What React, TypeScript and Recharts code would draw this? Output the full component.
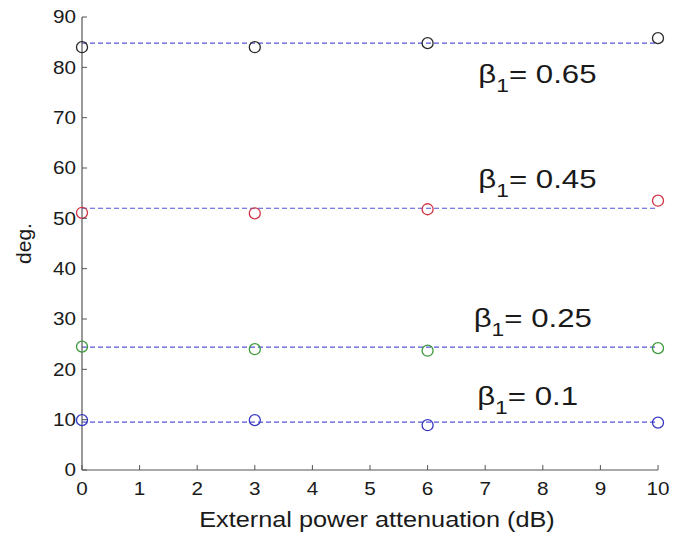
import React from 'react';
import {
  ScatterChart, Scatter, XAxis, YAxis, ReferenceLine, ReferenceDot, Label,
} from 'recharts';

// attenuation values (dB) where angles were measured
const attenuation = [0, 3, 6, 10];

// measured angle (deg.) for each beta
const beta065 = [84.0, 84.0, 84.8, 85.8];
const beta045 = [51.1, 51.0, 51.8, 53.5];
const beta025 = [24.5, 24.0, 23.7, 24.2];
const beta010 = [9.9, 9.9, 8.9, 9.4];

// fitted (mean) levels drawn as dashed lines
const fitLevels = [84.8, 52.0, 24.4, 9.5];

const betaLabels = ['0.65', '0.45', '0.25', '0.1'];
// where each label sits, in data units
const labelX = [6.88, 6.88, 6.8, 6.86];
const labelY = [76.9, 56.1, 28.4, 12.9];

const xTicks = [0, 1, 2, 3, 4, 5, 6, 7, 8, 9, 10];
const yTicks = [0, 10, 20, 30, 40, 50, 60, 70, 80, 90];

const FONT = '"Liberation Sans", Arial, Helvetica, sans-serif';
const AXIS = '#555';
const TEXT = '#1a1a1a';
const SX = 1.15; // the original figure is a bit wide

const toPoints = (vals: number[]) => attenuation.map((x, i) => ({ x, y: vals[i] }));

const series = [
  { name: 'b065', data: toPoints(beta065), color: '#2b2b2b' },
  { name: 'b045', data: toPoints(beta045), color: '#d03545' },
  { name: 'b025', data: toPoints(beta025), color: '#3c9a3c' },
  { name: 'b010', data: toPoints(beta010), color: '#3838c0' },
];

const BottomTick = (props: any) => {
  const { x, y, payload } = props;
  const top = y - 12;
  return (
    <g>
      <line x1={x} x2={x} y1={top} y2={top - 5} stroke={AXIS} strokeWidth={1} />
      <text transform={`translate(${x} ${y}) scale(${SX} 1)`} textAnchor="middle" dy="0.71em"
        fontFamily={FONT} fontSize={18} fill={TEXT}>{payload.value}</text>
    </g>
  );
};

const LeftTick = (props: any) => {
  const { x, y, payload } = props;
  const ax = x + 6;
  return (
    <g>
      <line x1={ax} x2={ax + 5} y1={y} y2={y} stroke={AXIS} strokeWidth={1} />
      <text transform={`translate(${x} ${y}) scale(${SX} 1)`} textAnchor="end" dy="0.36em"
        fontFamily={FONT} fontSize={18} fill={TEXT}>{payload.value}</text>
    </g>
  );
};

const TopTick = (props: any) => {
  const { x, y } = props;
  return <line x1={x} x2={x} y1={y} y2={y + 5} stroke={AXIS} strokeWidth={1} />;
};

const RightTick = (props: any) => {
  const { x, y } = props;
  return <line x1={x} x2={x - 5} y1={y} y2={y} stroke={AXIS} strokeWidth={1} />;
};

const XTitle = (props: any) => {
  const vb = props.viewBox;
  const cx = vb.x + vb.width / 2 + 7;
  return (
    <text transform={`translate(${cx} ${vb.y + 57}) scale(1.15 1)`} textAnchor="middle"
      fontFamily={FONT} fontSize={22} fill={TEXT}>External power attenuation (dB)</text>
  );
};

const YTitle = (props: any) => {
  const vb = props.viewBox;
  const cy = vb.y + vb.height / 2;
  return (
    <text transform={`translate(31 ${cy}) rotate(-90)`} textAnchor="middle"
      fontFamily={FONT} fontSize={21} fill={TEXT}>deg.</text>
  );
};

const BetaText = ({ cx, cy, value }: any) => (
  <text transform={`translate(${cx} ${cy}) scale(1.2 1)`} fontFamily={FONT} fontSize={26} fill={TEXT}>
    <tspan>β</tspan>
    <tspan fontSize={19} dy={9}>1</tspan>
    <tspan dy={-9}>= {value}</tspan>
  </text>
);

const Ring = (color: string) => (props: any) => (
  <circle cx={props.cx} cy={props.cy} r={5.5} fill="none" stroke={color} strokeWidth={1.3} />
);

export default function App() {
  return (
    <div style={{ position: 'absolute', left: 0, top: 0, background: '#fff' }}>
      <ScatterChart width={681} height={533} margin={{ top: 17, right: 23, bottom: 0, left: 0 }}>
        <XAxis type="number" dataKey="x" domain={[0, 10]} ticks={xTicks} interval={0}
          height={63} tickSize={0} tickMargin={12} tickLine={false}
          axisLine={{ stroke: AXIS, strokeWidth: 1.2 }} tick={<BottomTick />}>
          <Label content={<XTitle />} />
        </XAxis>
        <XAxis xAxisId="top" orientation="top" type="number" domain={[0, 10]} ticks={xTicks}
          interval={0} height={0} tickSize={0} tickMargin={0} tickLine={false}
          axisLine={{ stroke: AXIS, strokeWidth: 1.2 }} tick={<TopTick />} />
        <YAxis type="number" dataKey="y" domain={[0, 90]} ticks={yTicks} interval={0}
          width={82} tickSize={0} tickMargin={6} tickLine={false}
          axisLine={{ stroke: AXIS, strokeWidth: 1.2 }} tick={<LeftTick />}>
          <Label content={<YTitle />} />
        </YAxis>
        <YAxis yAxisId="right" orientation="right" type="number" domain={[0, 90]} ticks={yTicks}
          interval={0} width={0} tickSize={0} tickMargin={0} tickLine={false}
          axisLine={{ stroke: AXIS, strokeWidth: 1.2 }} tick={<RightTick />} />

        {fitLevels.map((v, i) => (
          <ReferenceLine key={`fit-${i}`} y={v} stroke="#5555d8" strokeWidth={1.2}
            strokeDasharray="5 3" />
        ))}

        {series.map((s) => (
          <Scatter key={s.name} name={s.name} data={s.data} isAnimationActive={false}
            shape={Ring(s.color)} />
        ))}

        {betaLabels.map((b, i) => (
          <ReferenceDot key={`lbl-${i}`} x={labelX[i]} y={labelY[i]} r={0} ifOverflow="visible"
            shape={(p: any) => <BetaText cx={p.cx} cy={p.cy} value={b} />} />
        ))}
      </ScatterChart>
    </div>
  );
}
